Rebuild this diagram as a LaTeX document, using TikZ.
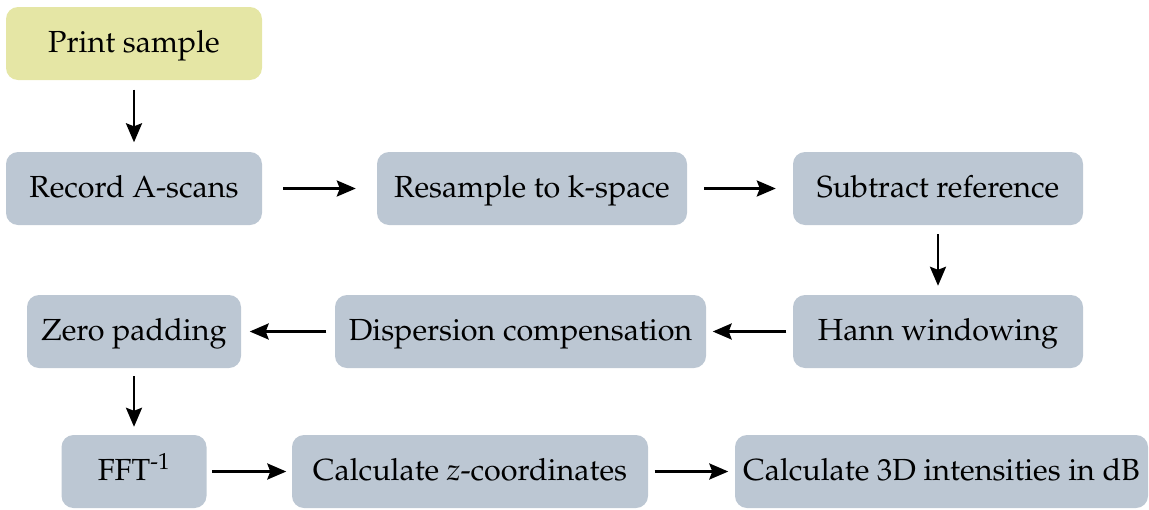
\documentclass[tikz,border=0pt]{standalone}
\usepackage[T1]{fontenc}
\usepackage{mathpazo}
\usetikzlibrary{arrows.meta}
\definecolor{stepgrey}{RGB}{188,199,211}
\definecolor{startyellow}{RGB}{229,230,165}

\begin{document}
\begin{tikzpicture}[x=1pt, y=-1pt, >={Stealth[length=19pt, width=16pt, inset=3pt]},
    gap/.style={->, line width=2.7pt, shorten <=#1, shorten >=#1}]
  \tikzstyle{box}=[rounded corners=12pt, fill=stepgrey, inner sep=0pt, minimum height=73pt,
    text height=23pt, text depth=4.5pt, font=\fontsize{30.5}{36}\selectfont]
  \useasboundingbox (0,0) rectangle (1149,509);

  \node[box, fill=startyellow, minimum width=256pt] (print) at (134,43.5) {Print sample};
  \node[box, minimum width=256pt] (record) at (134,188.5) {Record A-scans};
  \node[box, minimum width=310pt] (resample) at (532,188.5) {Resample to k-space};
  \node[box, minimum width=290pt] (subtract) at (938,188.5) {Subtract reference};
  \node[box, minimum width=290pt] (hann) at (938,331.5) {Hann windowing};
  \node[box, minimum width=371pt] (disp) at (520.5,331.5) {Dispersion compensation};
  \node[box, minimum width=214pt] (zero) at (134,331.5) {Zero padding};
  \node[box, minimum width=145pt] (fft) at (134,471.5) {FFT\textsuperscript{-1}};
  \node[box, minimum width=356pt] (zcoord) at (470,471.5) {Calculate \textit{z}-coordinates};
  \node[box, minimum width=413pt] (intens) at (941.5,471.5) {Calculate 3D intensities in dB};

  \draw[gap=9.5] (print) -- (record);
  \draw[gap=21] (record) -- (resample);
  \draw[gap=17] (resample) -- (subtract);
  \draw[gap=9] (subtract) -- (hann);
  \draw[gap=6.5] (hann) -- (disp);
  \draw[gap=8.5] (disp) -- (zero);
  \draw[gap=8] (zero) -- (fft);
  \draw[gap=5.5] (fft) -- (zcoord);
  \draw[gap=6.5] (zcoord) -- (intens);
\end{tikzpicture}
\end{document}
